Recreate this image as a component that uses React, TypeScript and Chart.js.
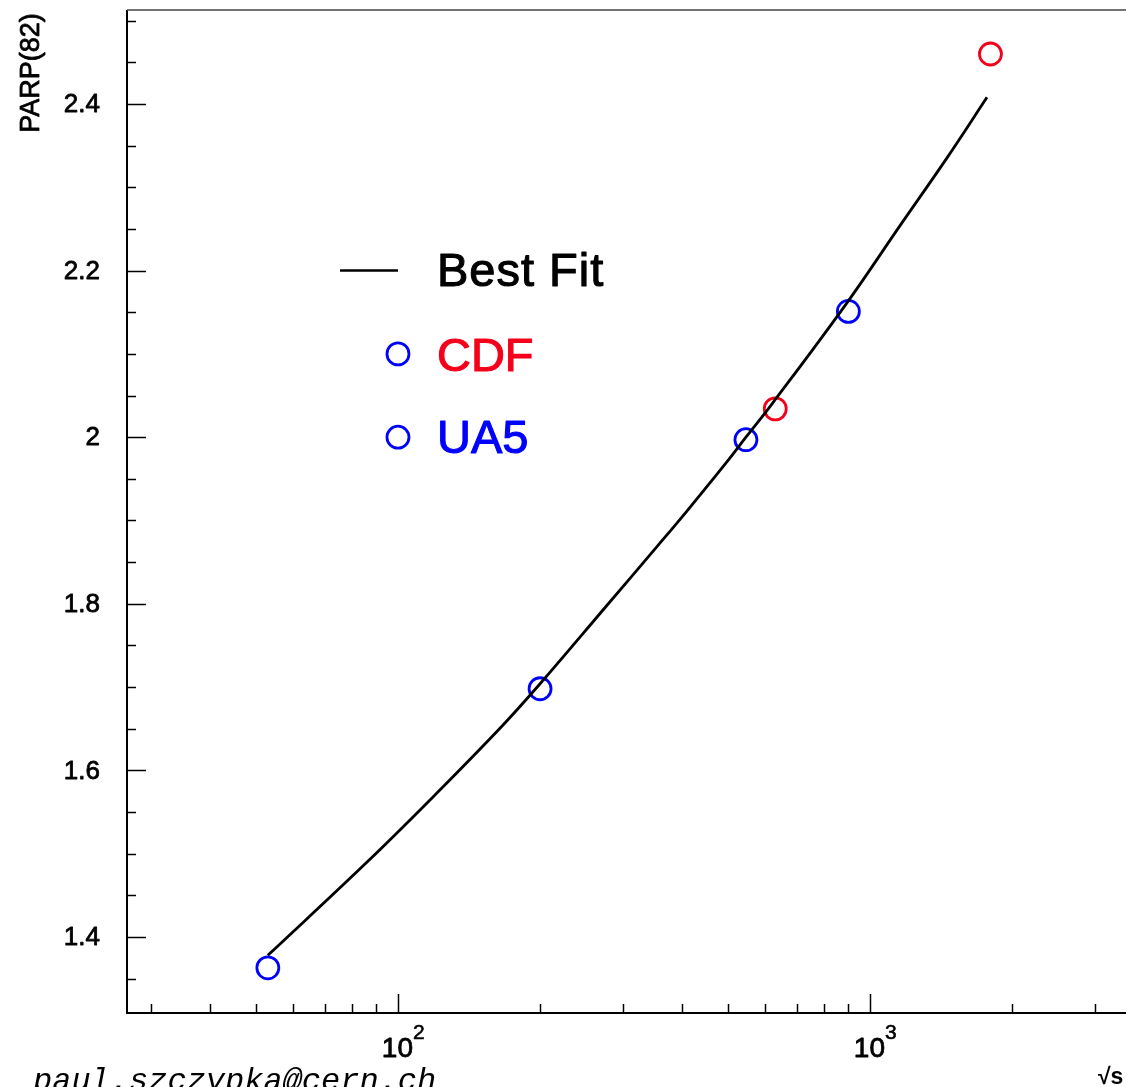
import React, { useEffect, useRef } from "react";
import { Chart, registerables } from "chart.js";

Chart.register(...registerables);

// Best fit curve
const fitEnergy = [53, 86, 120, 166, 200, 277, 353, 409, 497, 546, 622, 893, 1158, 1455, 1770];
const fitParp = [1.378, 1.49, 1.571, 1.653, 1.704, 1.798, 1.868, 1.911, 1.97, 2.0, 2.041, 2.161, 2.254, 2.335, 2.408];

// UA5 data
const ua5Energy = [53, 200, 546, 900];
const ua5Parp = [1.363, 1.698, 1.997, 2.151];

// CDF data
const cdfEnergy = [630, 1800];
const cdfParp = [2.034, 2.46];

// Axis ticks
const yMajorTicks = [1.4, 1.6, 1.8, 2.0, 2.2, 2.4];
const yTickLabels = ["1.4", "1.6", "1.8", "2", "2.2", "2.4"];
const yMinorStep = 0.05;
const xMajorTicks = [100, 1000];
const xTickExponents = ["2", "3"];
const xMinorTicks = [30, 40, 50, 60, 70, 80, 90, 200, 300, 400, 500, 600, 700, 800, 900, 2000, 3000];

const X_MIN = 26.66;
const X_MAX = 3487;
const Y_MIN = 1.3088;
const Y_MAX = 2.5128;

const BLUE = "#0000ff";
const RED = "#f5001a";
const FONT = "'Liberation Sans', Arial, Helvetica, sans-serif";

function boldText(ctx: CanvasRenderingContext2D, text: string, x: number, y: number, w: number) {
  ctx.lineWidth = w;
  ctx.lineJoin = "round";
  ctx.strokeStyle = ctx.fillStyle as string;
  ctx.strokeText(text, x, y);
  ctx.fillText(text, x, y);
}

const decorPlugin = {
  id: "decor",
  afterDraw(chart: any) {
    const { ctx, chartArea: a } = chart;
    const xs = chart.scales.x;
    const ys = chart.scales.y;
    ctx.save();

    // Frame
    ctx.strokeStyle = "#000";
    ctx.lineWidth = 2;
    ctx.beginPath();
    ctx.moveTo(a.left, a.top);
    ctx.lineTo(a.left, a.bottom);
    ctx.lineTo(a.right, a.bottom);
    ctx.stroke();
    ctx.strokeStyle = "#444";
    ctx.lineWidth = 1.5;
    ctx.beginPath();
    ctx.moveTo(a.left, a.top);
    ctx.lineTo(a.right, a.top);
    ctx.stroke();

    // Y ticks (inward)
    ctx.strokeStyle = "#000";
    ctx.lineWidth = 1.5;
    const kMin = Math.ceil(Y_MIN / yMinorStep);
    const kMax = Math.floor(Y_MAX / yMinorStep);
    for (let k = kMin; k <= kMax; k++) {
      const v = k * yMinorStep;
      const py = Math.round(ys.getPixelForValue(v)) + 0.5;
      const isMajor = yMajorTicks.some((m) => Math.abs(m - v) < 1e-6);
      ctx.beginPath();
      ctx.moveTo(a.left, py);
      ctx.lineTo(a.left + (isMajor ? 19 : 9), py);
      ctx.stroke();
    }
    // X ticks (inward)
    for (const v of xMinorTicks) {
      const px = Math.round(xs.getPixelForValue(v)) + 0.5;
      ctx.beginPath();
      ctx.moveTo(px, a.bottom);
      ctx.lineTo(px, a.bottom - 9);
      ctx.stroke();
    }
    for (const v of xMajorTicks) {
      const px = Math.round(xs.getPixelForValue(v)) + 0.5;
      ctx.beginPath();
      ctx.moveTo(px, a.bottom);
      ctx.lineTo(px, a.bottom - 19);
      ctx.stroke();
    }

    // Y tick labels
    ctx.fillStyle = "#000";
    ctx.font = `26px ${FONT}`;
    ctx.textAlign = "right";
    ctx.textBaseline = "middle";
    yMajorTicks.forEach((v, i) => {
      boldText(ctx, yTickLabels[i], 100, ys.getPixelForValue(v) + 1, 0.8);
    });

    // X tick labels 10^n
    ctx.textBaseline = "alphabetic";
    xMajorTicks.forEach((v, i) => {
      const px = xs.getPixelForValue(v);
      ctx.font = `28px ${FONT}`;
      ctx.textAlign = "right";
      boldText(ctx, "10", px + 15, 1057, 0.8);
      ctx.font = `21px ${FONT}`;
      ctx.textAlign = "left";
      boldText(ctx, xTickExponents[i], px + 15, 1039, 0.6);
    });

    // Axis titles
    ctx.font = `bold 23px ${FONT}`;
    ctx.textAlign = "left";
    ctx.fillText("\u221As", 1098, 1084);

    ctx.save();
    ctx.translate(32, 73);
    ctx.rotate(-Math.PI / 2);
    ctx.font = `27px ${FONT}`;
    ctx.textAlign = "center";
    ctx.textBaseline = "middle";
    boldText(ctx, "PARP(82)", 0, 0, 0.8);
    ctx.restore();

    // Author text
    ctx.font = `italic 32px 'Liberation Mono', 'Courier New', monospace`;
    ctx.textAlign = "left";
    ctx.fillStyle = "#000";
    ctx.fillText("paul.szczypka@cern.ch", 33, 1090);

    // Legend
    const lx = xs.getPixelForValue(100);
    const yFit = ys.getPixelForValue(2.2);
    const yCdf = ys.getPixelForValue(2.1);
    const yUa5 = ys.getPixelForValue(2.0);
    ctx.strokeStyle = "#000";
    ctx.lineWidth = 2.5;
    ctx.beginPath();
    ctx.moveTo(lx - 58, yFit);
    ctx.lineTo(lx, yFit);
    ctx.stroke();

    ctx.lineWidth = 2.8;
    ctx.strokeStyle = BLUE;
    for (const yy of [yCdf, yUa5]) {
      ctx.beginPath();
      ctx.arc(lx, yy, 11, 0, Math.PI * 2);
      ctx.stroke();
    }
    ctx.font = `47px ${FONT}`;
    ctx.textAlign = "left";
    ctx.textBaseline = "alphabetic";
    (ctx as any).letterSpacing = "1px";
    ctx.fillStyle = "#000";
    boldText(ctx, "Best Fit", lx + 39, yFit + 15, 1.1);
    (ctx as any).letterSpacing = "0px";
    ctx.fillStyle = RED;
    boldText(ctx, "CDF", lx + 39, yCdf + 17, 1.1);
    ctx.fillStyle = BLUE;
    boldText(ctx, "UA5", lx + 39, yUa5 + 16, 1.1);

    ctx.restore();
  },
};

export default function App() {
  const canvasRef = useRef<HTMLCanvasElement | null>(null);

  useEffect(() => {
    if (!canvasRef.current) return;
    const chart = new Chart(canvasRef.current, {
      type: "scatter",
      data: {
        datasets: [
          {
            type: "line",
            label: "Best Fit",
            data: fitEnergy.map((e, i) => ({ x: e, y: fitParp[i] })),
            borderColor: "#000",
            borderWidth: 2.8,
            pointRadius: 0,
            tension: 0.4,
            fill: false,
          } as any,
          {
            label: "UA5",
            data: ua5Energy.map((e, i) => ({ x: e, y: ua5Parp[i] })),
            pointRadius: 11,
            pointBorderWidth: 2.8,
            borderColor: BLUE,
            pointBorderColor: BLUE,
            backgroundColor: "rgba(0,0,0,0)",
            pointBackgroundColor: "rgba(0,0,0,0)",
            showLine: false,
          },
          {
            label: "CDF",
            data: cdfEnergy.map((e, i) => ({ x: e, y: cdfParp[i] })),
            pointRadius: 11,
            pointBorderWidth: 2.8,
            borderColor: RED,
            pointBorderColor: RED,
            backgroundColor: "rgba(0,0,0,0)",
            pointBackgroundColor: "rgba(0,0,0,0)",
            showLine: false,
          },
        ],
      },
      options: {
        animation: false,
        responsive: false,
        devicePixelRatio: 1,
        layout: { autoPadding: false, padding: { top: 10, left: 0, right: 0, bottom: 0 } },
        plugins: {
          legend: { display: false },
          tooltip: { enabled: false },
        },
        events: [],
        scales: {
          x: {
            type: "logarithmic",
            min: X_MIN,
            max: X_MAX,
            ticks: { display: false },
            grid: { display: false },
            border: { display: false },
            afterFit: (s: any) => {
              s.height = 74;
            },
          },
          y: {
            type: "linear",
            min: Y_MIN,
            max: Y_MAX,
            ticks: { display: false },
            grid: { display: false },
            border: { display: false },
            afterFit: (s: any) => {
              s.width = 127;
            },
          },
        },
      } as any,
      plugins: [decorPlugin],
    });
    return () => chart.destroy();
  }, []);

  return (
    <div style={{ position: "absolute", left: 0, top: 0, width: 1126, height: 1087, overflow: "hidden", background: "#fff" }}>
      <canvas ref={canvasRef} width={1126} height={1087} style={{ display: "block" }} />
    </div>
  );
}
